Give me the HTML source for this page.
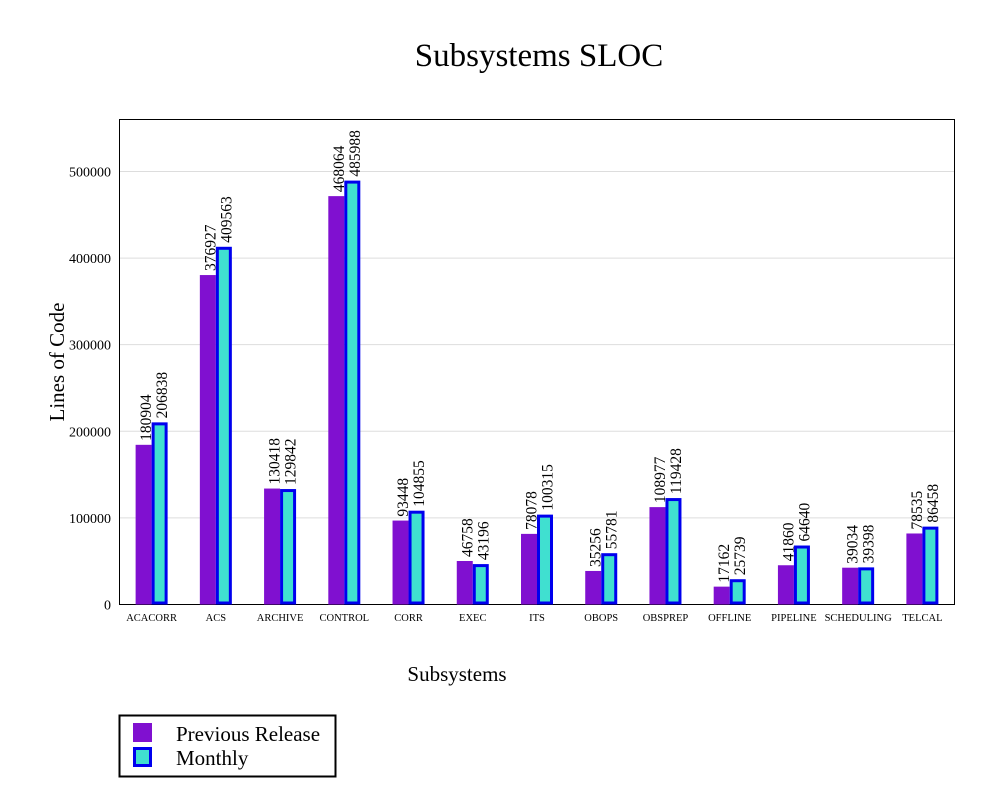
<!DOCTYPE html>
<html><head><meta charset="utf-8"><style>
body{margin:0;background:#fff;}
text{font-family:"Liberation Serif",serif;}
</style></head><body>
<svg id="chart" width="1000" height="795" xmlns="http://www.w3.org/2000/svg">
<text x="539" y="66" font-size="33" text-anchor="middle">Subsystems SLOC</text>
<g id="grid"></g>
<rect x="119.5" y="119.5" width="835" height="485" fill="none" stroke="#000" stroke-width="1"/>
<g id="bars"></g>
<text transform="translate(64,362) rotate(-90)" font-size="21" text-anchor="middle">Lines of Code</text>
<text x="457" y="681" font-size="21" text-anchor="middle">Subsystems</text>
<g>
<rect x="119.5" y="715.5" width="216" height="61" fill="#fff" stroke="#000" stroke-width="2"/>
<rect x="133" y="723" width="19" height="19" fill="#8010d0"/>
<text x="176" y="741" font-size="21">Previous Release</text>
<rect x="134.5" y="748.5" width="16" height="17" fill="#40e0d0" stroke="#0000ee" stroke-width="3"/>
<text x="176" y="765" font-size="21">Monthly</text>
</g>
</svg>
<script>
const categories=["ACACORR","ACS","ARCHIVE","CONTROL","CORR","EXEC","ITS","OBOPS","OBSPREP","OFFLINE","PIPELINE","SCHEDULING","TELCAL"];
const previousRelease=[180904,376927,130418,468064,93448,46758,78078,35256,108977,17162,41860,39034,78535];
const monthly=[206838,409563,129842,485988,104855,43196,100315,55781,119428,25739,64640,39398,86458];
const yTicks=[0,100000,200000,300000,400000,500000];
const NS="http://www.w3.org/2000/svg";
const x0=119.5,x1=954.5,yBase=604.5,yMax=560000,yTop=119.5;
function y(v){return yBase-(v/yMax)*(yBase-yTop);}
function yb(v){return y(v)-3;}
function xc(i){return x0+(i+0.5)*(x1-x0)/categories.length;}
function mk(tag,attrs,parent){const e=document.createElementNS(NS,tag);for(const k in attrs)e.setAttribute(k,attrs[k]);parent.appendChild(e);return e;}
const grid=document.getElementById('grid'),bars=document.getElementById('bars');
yTicks.forEach(t=>{
  if(t>0){const l=mk('line',{x1:x0,x2:x1,y1:y(t),y2:y(t),stroke:'#ddd','stroke-width':1},grid);
  
  }
  const tx=mk('text',{x:111,y:y(t)+5,'font-size':14,'text-anchor':'end'},grid);
  tx.textContent=String(t);
  
  
});
categories.forEach((c,i)=>{
  const cx=xc(i);
  const p=mk('rect',{x:cx-16,y:yb(previousRelease[i]),width:16,height:yBase-yb(previousRelease[i]),fill:'#8010d0'},bars);
  
  
  const m=mk('rect',{x:cx+1.5,y:yb(monthly[i])+1.5,width:13,height:yBase-yb(monthly[i])-3,fill:'#40e0d0',stroke:'#0000ee','stroke-width':3},bars);
  
  
  const l1=mk('text',{transform:`translate(${cx-0.5},${yb(previousRelease[i])-4}) rotate(-90)`,'font-size':15.5},bars);
  l1.textContent=previousRelease[i];
  
  
  const l2=mk('text',{transform:`translate(${cx+15.5},${yb(monthly[i])-4}) rotate(-90)`,'font-size':15.5},bars);
  l2.textContent=monthly[i];
  
  
  const xl=mk('text',{x:cx,y:621,'font-size':10.5,'text-anchor':'middle'},bars);
  xl.textContent=c;
  
  
});
</script>
</body></html>
